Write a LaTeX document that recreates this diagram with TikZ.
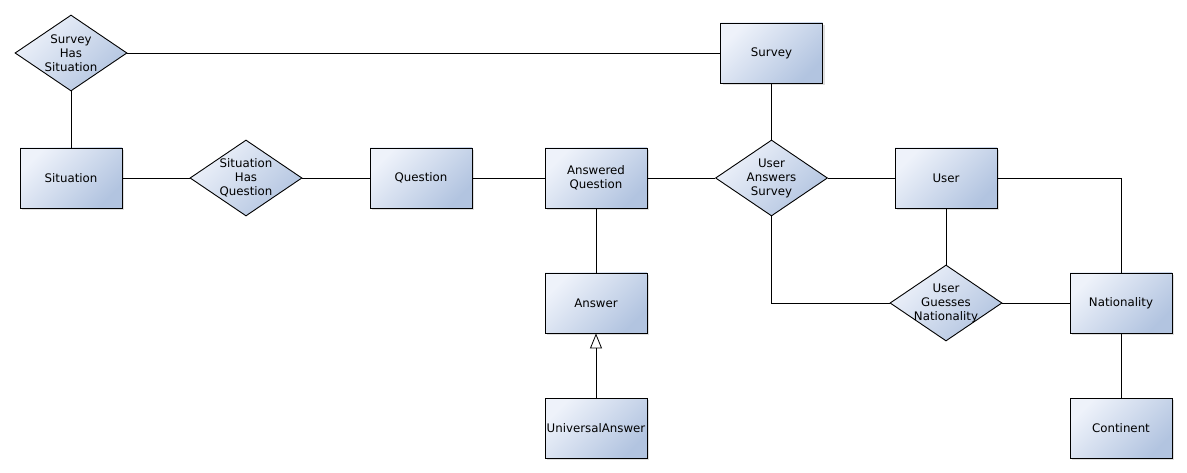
\documentclass[tikz,border=0pt]{standalone}
\usepackage{fontspec}
\setmainfont{DejaVu Sans}
\usetikzlibrary{shapes.geometric,shadows,arrows.meta}
\definecolor{erlight}{HTML}{EEF2FA}
\definecolor{erdark}{HTML}{B2C4E0}

\begin{document}
\begin{tikzpicture}[x=1pt,y=-1pt,
  font=\fontsize{11.8}{14}\selectfont,
  entity/.style={draw, line width=0.9pt, minimum width=102pt, minimum height=60pt,
    inner sep=0pt, align=center, top color=erlight, bottom color=erdark,
    shading angle=45, drop shadow={shadow xshift=2pt, shadow yshift=-2pt, opacity=0.25}},
  relation/.style={draw, line width=0.9pt, diamond, minimum width=112pt, minimum height=76pt,
    inner sep=0pt, top color=erlight, bottom color=erdark, shading angle=45},
  link/.style={line width=0.8pt}]
  \useasboundingbox (0,0) rectangle (1187,473);

  % Entities
  \node[entity] (survey) at (771.5,53) {Survey};
  \node[entity] (situation) at (71,178) {Situation};
  \node[entity] (question) at (421,178) {Question};
  \node[entity] (answered) at (596,178) {Answered\\Question};
  \node[entity] (user) at (946,178) {User};
  \node[entity] (answer) at (596,303) {Answer};
  \node[entity] (universal) at (596,428) {UniversalAnswer};
  \node[entity] (nationality) at (1121,303) {Nationality};
  \node[entity] (continent) at (1121,428) {Continent};

  % Relations
  \node[relation, label={[align=center]center:Survey\\Has\\Situation}] (hassituation) at (71,53) {};
  \node[relation, label={[align=center]center:Situation\\Has\\Question}] (hasquestion) at (246,178) {};
  \node[relation, label={[align=center]center:User\\Answers\\Survey}] (answers) at (771.5,178) {};
  \node[relation, label={[align=center]center:User\\Guesses\\Nationality}] (guesses) at (946,303) {};

  % Connections
  \draw[link] (hassituation.east) -- (survey.west);
  \draw[link] (hassituation.south) -- (situation.north);
  \draw[link] (situation.east) -- (hasquestion.west);
  \draw[link] (hasquestion.east) -- (question.west);
  \draw[link] (question.east) -- (answered.west);
  \draw[link] (answered.east) -- (answers.west);
  \draw[link] (survey.south) -- (answers.north);
  \draw[link] (answers.east) -- (user.west);
  \draw[link] (answered.south) -- (answer.north);
  \draw[link] (answers.south) |- (guesses.west);
  \draw[link] (user.south) -- (guesses.north);
  \draw[link] (guesses.east) -- (nationality.west);
  \draw[link] (user.east) -| (nationality.north);
  \draw[link] (nationality.south) -- (continent.north);

  % Generalisation
  \draw[link, -{Triangle[open, length=15pt, width=12pt]}] (universal.north) -- (answer.south);
\end{tikzpicture}
\end{document}
